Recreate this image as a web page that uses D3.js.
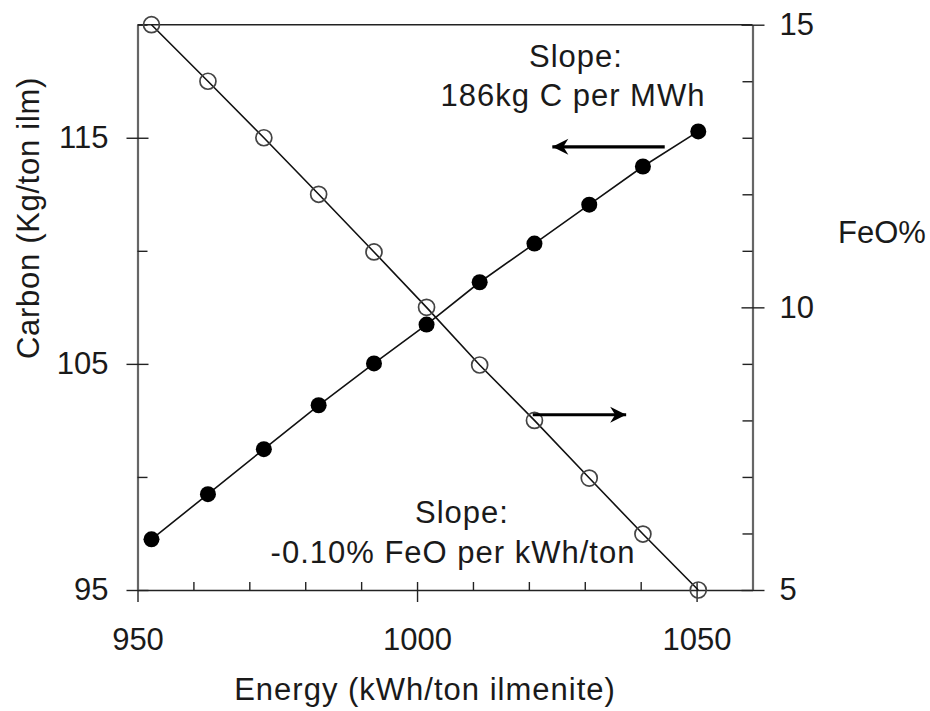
<!DOCTYPE html>
<html>
<head>
<meta charset="utf-8">
<script src="https://cdn.jsdelivr.net/npm/d3@7"></script>
<style>
  body { margin: 0; background: #fff; }
  text { font-family: "Liberation Sans", Arial, sans-serif; fill: #1a1a1a; }
</style>
</head>
<body>
<div id="chart"></div>
<script>
// data
const energy = [952.5, 962.6, 972.6, 982.4, 992.3, 1001.7, 1011.2, 1021.0, 1030.8, 1040.4, 1050.3];
const carbon = [97.24, 99.24, 101.23, 103.17, 105.02, 106.74, 108.61, 110.32, 112.04, 113.73, 115.28];
const feo = [15.0, 14.0, 13.0, 12.0, 10.98, 10.0, 8.98, 8.0, 6.98, 5.99, 5.0];

const xMajor = [950, 1000, 1050];
const xMinor = [960, 970, 980, 990, 1010, 1020, 1030, 1040, 1060];
const leftMajor = [95, 105, 115];
const leftMinor = [100, 110, 120];
const rightMajor = [5, 10, 15];
const rightMinor = [6, 7, 8, 9, 11, 12, 13, 14];

const width = 930, height = 711;
const tickFont = 31;
const labelFont = 31;

const svg = d3.select("#chart")
  .append("svg")
    .attr("width", width)
    .attr("height", height);

// scales
const x = d3.scaleLinear().domain([950, 1060]).range([137.5, 752.5]);
const yL = d3.scaleLinear().domain([95, 120]).range([590, 24.7]);
const yR = d3.scaleLinear().domain([5, 15]).range([590, 24.7]);

const x0 = x.range()[0], x1 = x.range()[1];
const yBottom = yL.range()[0], yTop = yL.range()[1];

// top frame line
svg.append("line")
    .attr("x1", x0).attr("x2", x1)
    .attr("y1", yTop).attr("y2", yTop)
    .attr("stroke", "#222")
    .attr("stroke-width", 1.4);

// bottom axis
const gx = svg.append("g")
    .attr("transform", `translate(0, ${yBottom})`)
  .call(d3.axisBottom(x).tickValues(xMajor).tickFormat(d3.format("d"))
    .tickSize(12).tickSizeOuter(0).tickPadding(26));
gx.selectAll(".tick line").attr("y1", -8).attr("stroke", "#222").attr("stroke-width", 1.4);
gx.select(".domain").attr("stroke", "#222").attr("stroke-width", 1.4);
gx.selectAll("text").attr("font-size", tickFont).attr("fill", "#1a1a1a");

svg.append("g")
    .attr("transform", `translate(0, ${yBottom})`)
  .call(d3.axisBottom(x).tickValues(xMinor).tickSize(-8).tickFormat(""))
  .call(g => g.select(".domain").remove())
  .call(g => g.selectAll("line").attr("stroke", "#222").attr("stroke-width", 1.4));

// left axis
const gl = svg.append("g")
    .attr("transform", `translate(${x0}, 0)`)
  .call(d3.axisLeft(yL).tickValues(leftMajor).tickSize(11).tickSizeOuter(0).tickPadding(18));
gl.selectAll(".tick line").attr("x1", 11).attr("stroke", "#222").attr("stroke-width", 1.4);
gl.select(".domain").attr("stroke", "#666").attr("stroke-width", 2.2);
gl.selectAll("text").attr("font-size", tickFont).attr("fill", "#1a1a1a");

svg.append("g")
    .attr("transform", `translate(${x0}, 0)`)
  .call(d3.axisLeft(yL).tickValues(leftMinor).tickSize(-10).tickFormat(""))
  .call(g => g.select(".domain").remove())
  .call(g => g.selectAll("line").attr("stroke", "#222").attr("stroke-width", 1.4));

// right axis
const gr = svg.append("g")
    .attr("transform", `translate(${x1}, 0)`)
  .call(d3.axisRight(yR).tickValues(rightMajor).tickSize(12).tickSizeOuter(0).tickPadding(15));
gr.selectAll(".tick line").attr("x1", -11).attr("stroke", "#222").attr("stroke-width", 1.4);
gr.select(".domain").attr("stroke", "#666").attr("stroke-width", 2.2);
gr.selectAll("text").attr("font-size", tickFont).attr("fill", "#1a1a1a");

svg.append("g")
    .attr("transform", `translate(${x1}, 0)`)
  .call(d3.axisRight(yR).tickValues(rightMinor).tickSize(-10).tickFormat(""))
  .call(g => g.select(".domain").remove())
  .call(g => g.selectAll("line").attr("stroke", "#222").attr("stroke-width", 1.4));

// lines through each series
const carbonData = energy.map((e, i) => ({e: e, v: carbon[i]}));
const feoData = energy.map((e, i) => ({e: e, v: feo[i]}));

svg.append("path")
    .datum(carbonData)
    .attr("fill", "none")
    .attr("stroke", "#111")
    .attr("stroke-width", 1.6)
    .attr("d", d3.line().x(d => x(d.e)).y(d => yL(d.v)));

svg.append("path")
    .datum(feoData)
    .attr("fill", "none")
    .attr("stroke", "#111")
    .attr("stroke-width", 1.6)
    .attr("d", d3.line().x(d => x(d.e)).y(d => yR(d.v)));

// points
svg.append("g")
  .selectAll("circle")
  .data(carbonData)
  .join("circle")
    .attr("cx", d => x(d.e))
    .attr("cy", d => yL(d.v))
    .attr("r", 8)
    .attr("fill", "#000");

svg.append("g")
  .selectAll("circle")
  .data(feoData)
  .join("circle")
    .attr("cx", d => x(d.e))
    .attr("cy", d => yR(d.v))
    .attr("r", 8)
    .attr("fill", "none")
    .attr("stroke", "#444")
    .attr("stroke-width", 1.7);

// arrow heads
svg.append("defs")
  .append("marker")
    .attr("id", "head")
    .attr("viewBox", "-17 -9 19 18")
    .attr("refX", 0).attr("refY", 0)
    .attr("markerWidth", 19).attr("markerHeight", 18)
    .attr("markerUnits", "userSpaceOnUse")
    .attr("orient", "auto")
  .append("path")
    .attr("d", "M0,0 L-16,-8 L-11,0 L-16,8 Z")
    .attr("fill", "#000");

// arrow pointing to the carbon axis
svg.append("line")
    .attr("x1", x(1044.3)).attr("y1", yL(114.6))
    .attr("x2", x(1024.2)).attr("y2", yL(114.6))
    .attr("stroke", "#000")
    .attr("stroke-width", 3.2)
    .attr("marker-end", "url(#head)");

// arrow pointing to the FeO axis
svg.append("line")
    .attr("x1", x(1020.7)).attr("y1", yR(8.1))
    .attr("x2", x(1037.4)).attr("y2", yR(8.1))
    .attr("stroke", "#000")
    .attr("stroke-width", 3.2)
    .attr("marker-end", "url(#head)");

// slope notes
const notes = svg.append("g")
    .attr("font-size", labelFont)
    .attr("letter-spacing", 1)
    .attr("text-anchor", "middle");
notes.append("text").attr("x", 576).attr("y", 67).text("Slope:");
notes.append("text").attr("x", 573).attr("y", 106).text("186kg C per MWh");
notes.append("text").attr("x", 462).attr("y", 523).text("Slope:");
notes.append("text").attr("x", 453).attr("y", 563).text("-0.10% FeO per kWh/ton");

// axis titles
svg.append("text")
    .attr("transform", "translate(39, 218) rotate(-90)")
    .attr("text-anchor", "middle")
    .attr("font-size", labelFont)
    .attr("letter-spacing", 0.7)
  .text("Carbon (Kg/ton ilm)");

svg.append("text")
    .attr("x", 838).attr("y", 243)
    .attr("text-anchor", "start")
    .attr("font-size", labelFont)
  .text("FeO%");

svg.append("text")
    .attr("x", 425).attr("y", 700)
    .attr("text-anchor", "middle")
    .attr("font-size", labelFont)
    .attr("letter-spacing", 1)
  .text("Energy (kWh/ton ilmenite)");
</script>
</body>
</html>
